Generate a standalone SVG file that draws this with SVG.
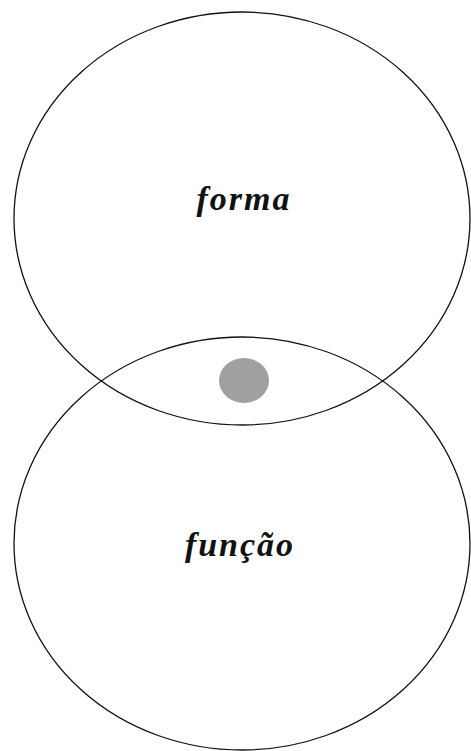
<svg xmlns="http://www.w3.org/2000/svg" width="471" height="751" viewBox="0 0 471 751">
<style>
.e{fill:none;stroke:#111;stroke-width:1.3}
.t{font-family:"Liberation Serif",serif;font-style:italic;font-weight:bold;font-size:34px;fill:#111;text-anchor:middle;letter-spacing:2px}
</style>
<rect width="471" height="751" fill="#fff"/>
<g id="forma">
<ellipse class="e" cx="242" cy="218.5" rx="228" ry="206.5"/>
<text class="t" x="244" y="210">forma</text>
</g>
<g id="funcao">
<ellipse class="e" cx="242" cy="543.5" rx="228" ry="206.5"/>
<text class="t" x="240" y="556">função</text>
</g>
<g id="dot">
<ellipse cx="244" cy="380.5" rx="25" ry="22.5" fill="#a0a0a0"/>
</g>
</svg>
